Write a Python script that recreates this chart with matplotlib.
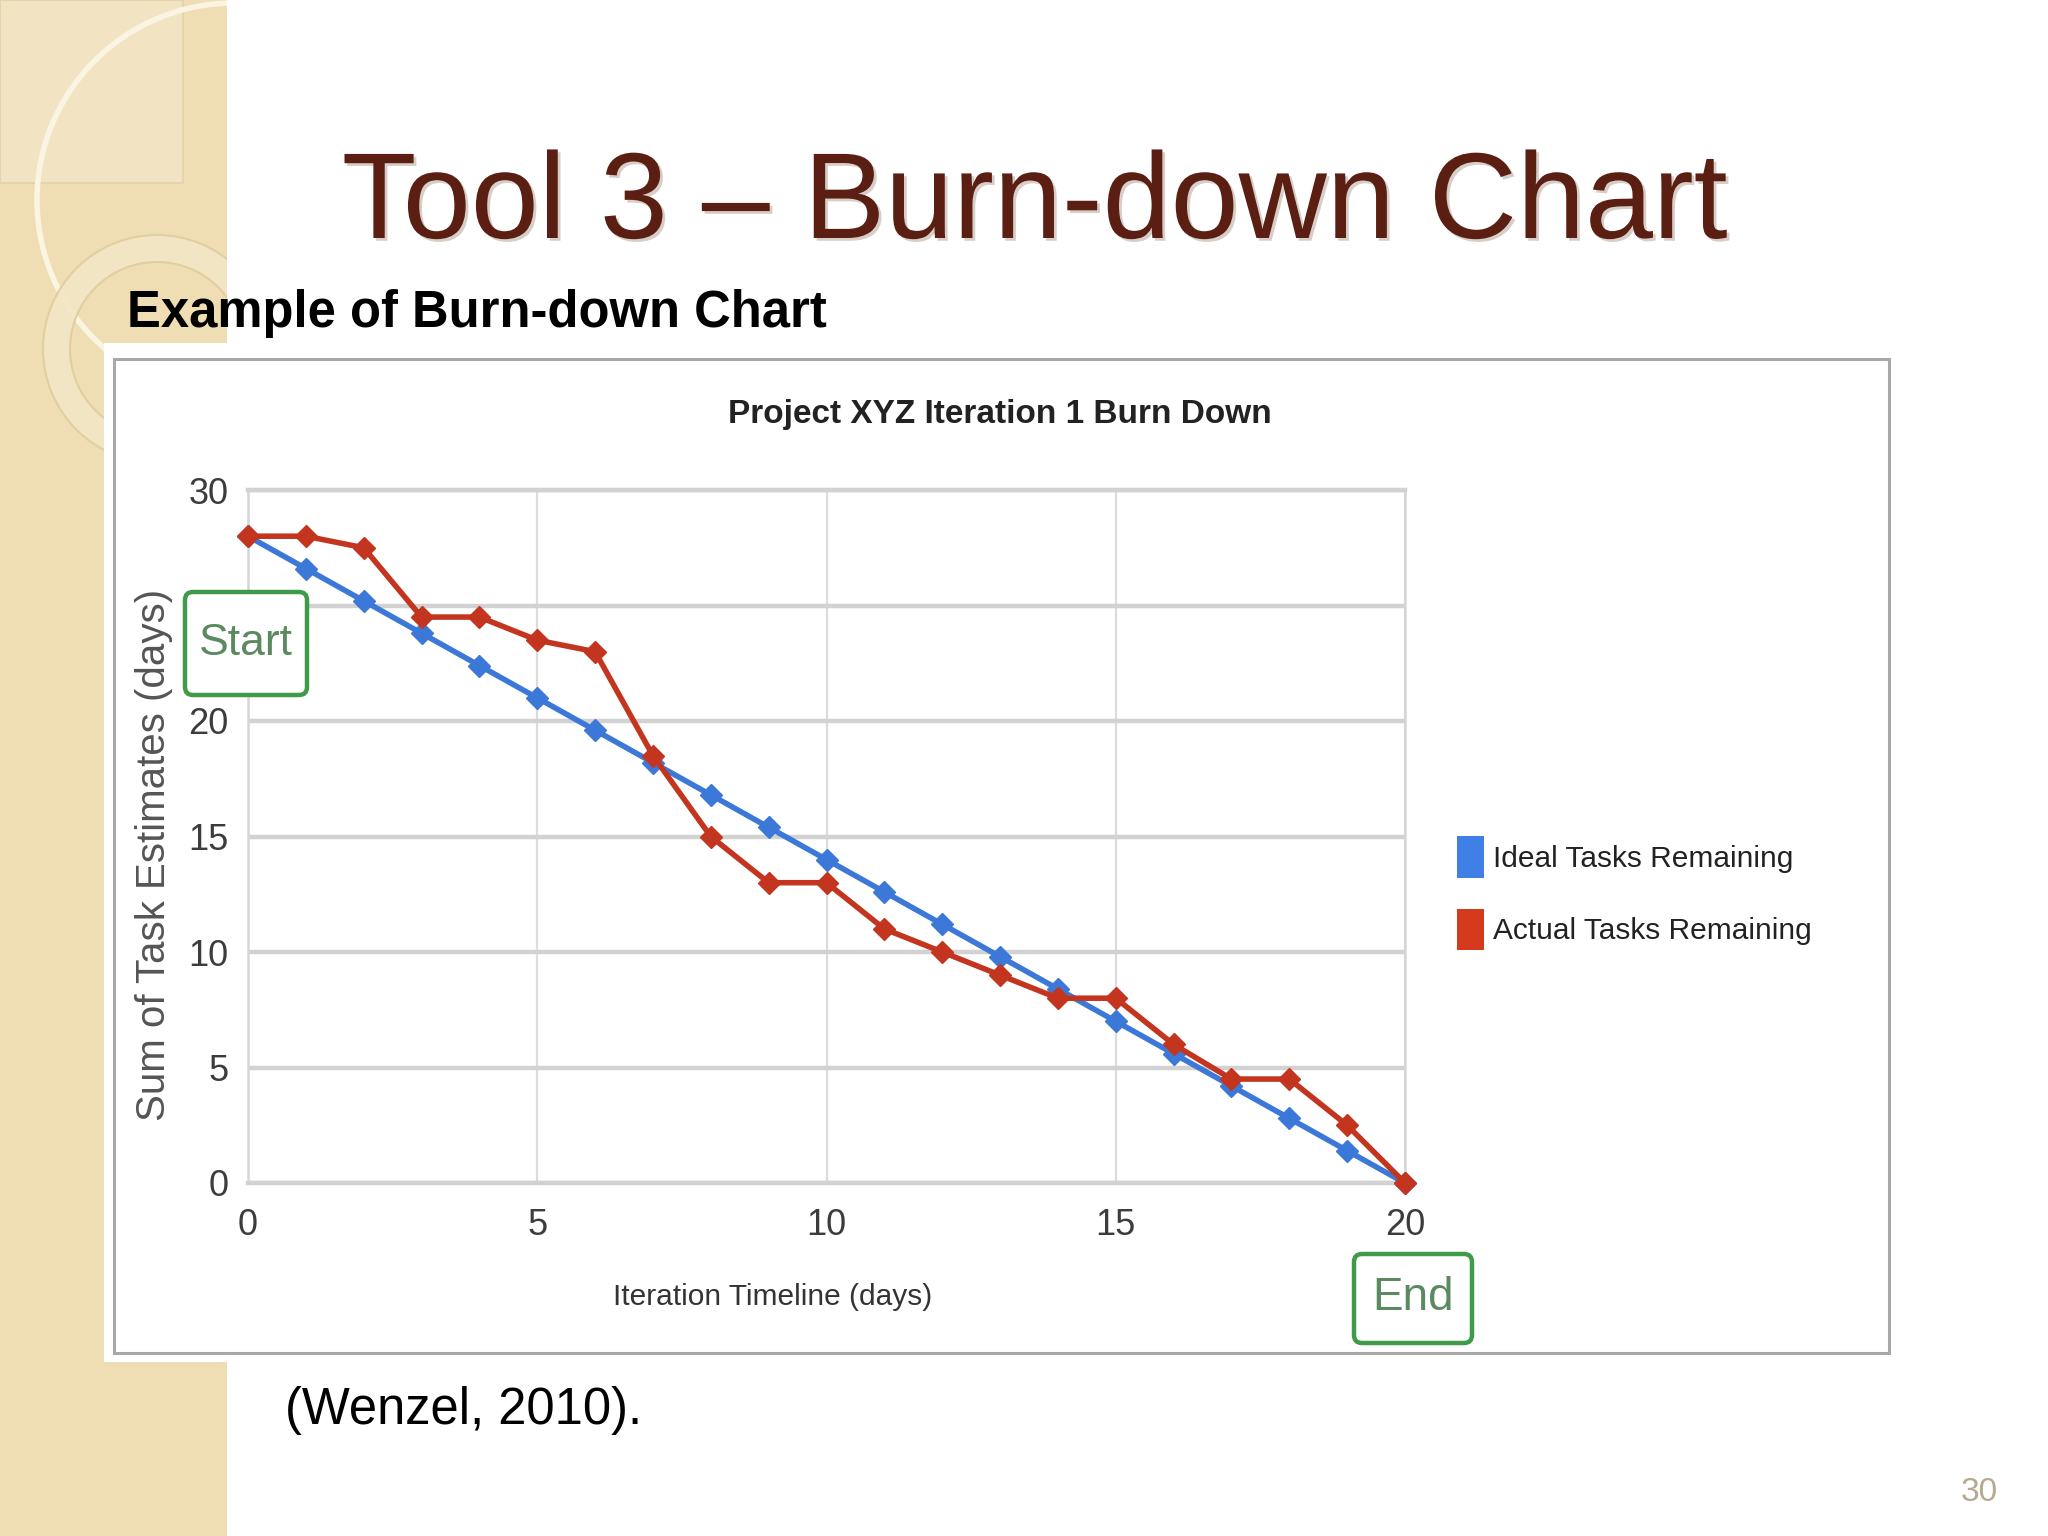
import matplotlib
matplotlib.use('Agg')
import matplotlib.pyplot as plt
from matplotlib.patches import Rectangle, FancyBboxPatch, Circle, Wedge, Patch
from matplotlib.transforms import IdentityTransform
import matplotlib.patheffects as pe

# ---------------- data ----------------
days = list(range(21))
ideal = [28, 26.6, 25.2, 23.8, 22.4, 21, 19.6, 18.2, 16.8, 15.4, 14,
         12.6, 11.2, 9.8, 8.4, 7, 5.6, 4.2, 2.8, 1.4, 0]
actual = [28, 28, 27.5, 24.5, 24.5, 23.5, 23, 18.5, 15, 13, 13,
          11, 10, 9, 8, 8, 6, 4.5, 4.5, 2.5, 0]
x_ticks = [0, 5, 10, 15, 20]
y_ticks = [0, 5, 10, 15, 20, 25, 30]
series_names = ['Ideal Tasks Remaining', 'Actual Tasks Remaining']
slide_title = 'Tool 3 – Burn-down Chart'
slide_subtitle = 'Example of Burn-down Chart'
chart_title = 'Project XYZ Iteration 1 Burn Down'
x_label = 'Iteration Timeline (days)'
y_label = 'Sum of Task Estimates (days)'
citation = '(Wenzel, 2010).'
page_no = '30'

# ---------------- setup ----------------
W, H = 2048, 1536
DPI = 100
SANS = ['Liberation Sans', 'DejaVu Sans']
BLUE = '#3c78d8'
RED = '#c4351f'

fig = plt.figure(figsize=(W / DPI, H / DPI), dpi=DPI)
fig.patch.set_facecolor('white')
PX = IdentityTransform()


def fx(x):
    return x / W


def fy(y):
    return 1 - y / H


# ---------------- slide decoration (left beige strip) ----------------
strip = Rectangle((0, 0), 227, H, transform=PX, fc='#efdeb3', ec='none', zorder=0.1)
fig.add_artist(strip)
light = Rectangle((0, H - 183), 183, 183, transform=PX, fc='#f2e4c3', ec='#e4d4aa', lw=1.5, zorder=0.2)
fig.add_artist(light)
big = Circle((234, H - 200), 197, transform=PX, fc='none', ec='#fbf4e2', lw=4, zorder=0.3)
fig.add_artist(big)
big.set_clip_path(strip)
ring = Wedge((157, H - 349), 114, 0, 360, width=27, transform=PX,
             fc='#f3e6c6', ec='#e0cd9c', lw=1.5, alpha=0.9, zorder=0.4)
fig.add_artist(ring)
ring.set_clip_path(strip)

# ---------------- chart picture frame ----------------
fig.add_artist(Rectangle((104, H - 1362), 1790, 1019, transform=PX,
                         fc='white', ec='none', zorder=0.5))
fig.add_artist(Rectangle((114, H - 1353), 1775, 994, transform=PX,
                         fc='white', ec='#a8a8a8', lw=2.2, zorder=0.6))

# ---------------- slide texts ----------------
fig.text(fx(1035), fy(238), slide_title, ha='center', va='baseline',
         fontsize=88, color='#5a1e12', family=SANS,
         path_effects=[pe.withSimplePatchShadow(offset=(2, -2), shadow_rgbFace='#b0a090', alpha=0.5)])
fig.text(fx(127), fy(327), slide_subtitle, ha='left', va='baseline',
         fontsize=36.5, fontweight='bold', color='black', family=SANS, zorder=6)
fig.text(fx(285), fy(1424), citation, ha='left', va='baseline',
         fontsize=36.5, color='black', family=SANS)
fig.text(fx(1998), fy(1501), page_no, ha='right', va='baseline',
         fontsize=24, color='#b5aa90', family=SANS)

# ---------------- the chart ----------------
ax = fig.add_axes([fx(248), fy(1183), (1405 - 248) / W, (1183 - 490) / H])
ax.set_zorder(2)
ax.patch.set_facecolor('white')
ax.set_xlim(0, 20)
ax.set_ylim(0, 30)
ax.set_xticks(x_ticks)
ax.set_yticks(y_ticks)
ax.set_xticklabels([str(v) for v in x_ticks])
ax.set_yticklabels([str(v) for v in y_ticks])
ax.tick_params(length=0, labelsize=26, labelcolor='#3c3c3c')
ax.tick_params(axis='y', pad=14)
ax.tick_params(axis='x', pad=18)
for lab in ax.get_xticklabels() + ax.get_yticklabels():
    lab.set_family(SANS)
ax.grid(axis='y', color='#d2d2d2', lw=3.2, zorder=0)
ax.grid(axis='x', color='#dcdcdc', lw=1.6, zorder=0)
ax.set_axisbelow(True)
for side in ['top', 'bottom']:
    ax.spines[side].set_color('#d2d2d2')
    ax.spines[side].set_linewidth(3.2)
for side in ['left', 'right']:
    ax.spines[side].set_color('#d6d6d6')
    ax.spines[side].set_linewidth(1.8)

ax.plot(days, ideal, color=BLUE, lw=4, marker='D', ms=11, mec=BLUE, mfc=BLUE,
        zorder=3, clip_on=False)
ax.plot(days, actual, color=RED, lw=4, marker='D', ms=11, mec=RED, mfc=RED,
        zorder=4, clip_on=False)

handles = [Patch(fc='#3f7fe6', ec='none'), Patch(fc='#d63a1c', ec='none')]
leg = ax.legend(handles, series_names, loc='center left',
                bbox_to_anchor=(1.035, 0.418), frameon=False,
                prop={'family': SANS, 'size': 21.5},
                handlelength=0.9, handleheight=1.75, handletextpad=0.3,
                labelspacing=1.05, borderaxespad=0)
for t in leg.get_texts():
    t.set_color('#222222')

fig.text(fx(773), fy(1297), x_label, ha='center', va='center',
         fontsize=21.5, color='#333333', family=SANS)
fig.text(fx(154), fy(855), y_label, ha='center', va='center', rotation=90,
         fontsize=29, color='#555555', family=SANS)
fig.text(fx(1000), fy(415), chart_title, ha='center', va='center',
         fontsize=24, fontweight='bold', color='#222222', family=SANS)

# ---------------- Start / End callouts ----------------
start_box = FancyBboxPatch((185, H - 695), 122, 103, transform=PX,
                           boxstyle='round,pad=0,rounding_size=8',
                           fc='white', ec='#3f9b4a', lw=3.2, zorder=5)
fig.add_artist(start_box)
fig.text(fx(246), fy(643), 'Start', ha='center', va='center',
         fontsize=32, color='#5c8a60', family=SANS, zorder=6)
end_box = FancyBboxPatch((1354, H - 1343), 118, 89, transform=PX,
                         boxstyle='round,pad=0,rounding_size=8',
                         fc='white', ec='#3f9b4a', lw=3.2, zorder=5)
fig.add_artist(end_box)
fig.text(fx(1413), fy(1298), 'End', ha='center', va='center',
         fontsize=33, color='#5c8a60', family=SANS, zorder=6)

fig.savefig('out.png', dpi=DPI)
